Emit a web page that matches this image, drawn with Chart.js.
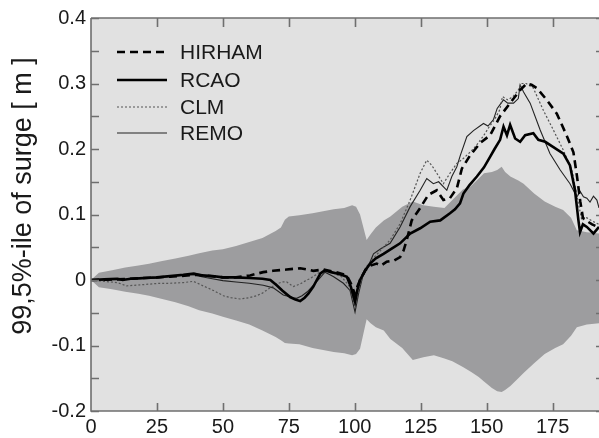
<!DOCTYPE html>
<html>
<head>
<meta charset="utf-8">
<script src="https://cdn.jsdelivr.net/npm/chart.js@4/dist/chart.umd.min.js"></script>
<style>
  html, body { margin: 0; padding: 0; background: #fff; }
  canvas { display: block; }
</style>
</head>
<body>
<canvas id="surge" width="599" height="438"></canvas>
<script>
// tick positions
const xTicks = [0, 25, 50, 75, 100, 125, 150, 175];
const yTicks = [-0.2, -0.15, -0.1, -0.05, 0, 0.05, 0.1, 0.15, 0.2, 0.25, 0.3, 0.35, 0.4];

// grey envelope (upper / lower edge)
const bandX = [0, 3, 8, 13, 18, 22, 27, 32, 37, 41, 46, 50, 55, 60, 65, 70, 72, 73.5, 75, 79, 84, 88, 92, 96, 99, 100.5, 102, 104.5, 106, 108, 111, 113.5, 118, 122, 126, 130, 134, 137, 141, 144, 147, 149, 152, 154, 155.7, 157, 159, 162, 164, 168, 172, 176, 179, 182, 184.2, 188, 192.6];
const bandUpper = [0, 0.011, 0.015, 0.019, 0.022, 0.025, 0.029, 0.033, 0.037, 0.041, 0.045, 0.047, 0.052, 0.058, 0.064, 0.075, 0.080, 0.092, 0.097, 0.099, 0.102, 0.105, 0.108, 0.110, 0.114, 0.112, 0.100, 0.061, 0.070, 0.080, 0.091, 0.097, 0.112, 0.120, 0.114, 0.112, 0.110, 0.122, 0.138, 0.143, 0.155, 0.163, 0.165, 0.168, 0.173, 0.165, 0.158, 0.152, 0.147, 0.132, 0.120, 0.112, 0.107, 0.095, 0.076, 0.073, 0.071];
const bandLower = [0, -0.011, -0.014, -0.018, -0.021, -0.024, -0.029, -0.034, -0.040, -0.046, -0.051, -0.056, -0.062, -0.068, -0.077, -0.087, -0.092, -0.096, -0.097, -0.098, -0.104, -0.107, -0.110, -0.112, -0.115, -0.113, -0.105, -0.060, -0.066, -0.072, -0.077, -0.090, -0.104, -0.122, -0.118, -0.115, -0.120, -0.124, -0.133, -0.140, -0.148, -0.155, -0.165, -0.170, -0.171, -0.168, -0.162, -0.150, -0.142, -0.127, -0.113, -0.104, -0.098, -0.085, -0.072, -0.068, -0.066];

// HIRHAM (thick dashed)
const hirhamX = [0, 10, 20, 30, 40, 50, 55, 60.3, 65.3, 69, 74.2, 79.3, 84.3, 88, 93, 97, 98.5, 100.1, 101, 102, 104, 106, 108.3, 110, 112.1, 115, 117.2, 118.5, 119.7, 121.6, 124.8, 127.9, 131.1, 133.6, 136.1, 138.7, 140.6, 143.7, 147.5, 151.3, 155.1, 158.9, 162.7, 165.2, 167, 169, 172.8, 176.6, 180.4, 182.9, 184.2, 185.5, 186.5, 188, 190, 192.6];
const hirhamY = [0, 0.001, 0.003, 0.005, 0.008, 0.004, 0.004, 0.007, 0.012, 0.014, 0.016, 0.018, 0.014, 0.016, 0.012, 0.007, -0.005, -0.022, -0.010, 0, 0.015, 0.022, 0.025, 0.022, 0.028, 0.030, 0.035, 0.045, 0.061, 0.091, 0.110, 0.130, 0.137, 0.122, 0.125, 0.140, 0.170, 0.190, 0.209, 0.221, 0.250, 0.270, 0.290, 0.300, 0.298, 0.293, 0.275, 0.254, 0.220, 0.195, 0.160, 0.120, 0.095, 0.090, 0.085, 0.080];

// RCAO (thick solid)
const rcaoX = [0, 5, 10, 12, 15, 20, 25, 30, 35, 39, 42, 46, 50, 55, 60, 65, 68, 70.4, 72.5, 75.5, 77.5, 79.3, 81, 82.4, 84.3, 85.6, 87, 88.7, 91, 93.2, 95, 97, 98.5, 100.1, 101, 102, 104, 105.8, 108, 110.9, 114, 117.2, 121, 124.8, 128.6, 132.4, 136.1, 138, 139.9, 141.2, 143.5, 146.3, 149, 151.3, 153, 155.1, 156.4, 157.7, 158.9, 160.8, 162.7, 164.6, 167.7, 169.6, 172.2, 175.3, 179.1, 181.6, 183.5, 184.8, 185.4, 186.5, 188, 189.5, 190.5, 192.6];
const rcaoY = [0, 0.001, 0.002, 0, 0.002, 0.003, 0.004, 0.006, 0.008, 0.010, 0.007, 0.006, 0.004, 0.004, 0.003, 0.002, 0, -0.008, -0.016, -0.026, -0.030, -0.032, -0.027, -0.021, -0.010, 0, 0.010, 0.015, 0.012, 0.010, 0.008, 0.005, -0.010, -0.033, -0.015, 0, 0.015, 0.025, 0.033, 0.040, 0.048, 0.056, 0.071, 0.079, 0.089, 0.091, 0.102, 0.108, 0.117, 0.132, 0.145, 0.158, 0.172, 0.188, 0.200, 0.214, 0.234, 0.221, 0.237, 0.216, 0.211, 0.221, 0.224, 0.214, 0.211, 0.203, 0.193, 0.175, 0.137, 0.091, 0.073, 0.085, 0.081, 0.075, 0.071, 0.081];

// CLM (thin dotted)
const clmX = [0, 5, 10, 13.5, 20, 26, 30, 35, 38.8, 42, 46.4, 50.2, 53, 56.5, 60, 62.8, 65, 67.9, 70.4, 72.5, 74.2, 76.7, 79.3, 81.8, 83, 86.8, 88.7, 91, 95, 98, 100.1, 102, 104, 107, 110, 113.4, 117.2, 121, 124.8, 127.3, 129.2, 131.1, 133.6, 136.1, 138.7, 141, 143.7, 146, 148.8, 151, 153, 155, 156, 158, 160, 162, 163, 165, 167.7, 171.5, 175.3, 179.1, 182.3, 184.8, 186.1, 188, 190, 192.6];
const clmY = [0, -0.002, -0.004, -0.009, -0.007, -0.005, -0.005, -0.004, -0.002, -0.008, -0.016, -0.024, -0.027, -0.029, -0.027, -0.024, -0.020, -0.012, -0.006, -0.003, -0.003, -0.010, -0.006, 0, 0.002, 0.012, 0.013, 0.012, 0.005, -0.010, -0.040, -0.008, 0.018, 0.033, 0.046, 0.061, 0.086, 0.122, 0.163, 0.183, 0.175, 0.163, 0.147, 0.163, 0.178, 0.185, 0.195, 0.205, 0.220, 0.234, 0.245, 0.260, 0.280, 0.275, 0.280, 0.290, 0.300, 0.300, 0.293, 0.259, 0.229, 0.198, 0.168, 0.117, 0.091, 0.095, 0.090, 0.085];

// REMO (thin solid)
const remoX = [0, 5, 10, 15, 20, 25, 30, 35, 39, 42, 46, 50, 55, 60, 65.3, 69.1, 72.9, 76.7, 78, 80, 82, 85, 88.7, 90.6, 92, 95.7, 98.2, 100.1, 101.5, 103, 105, 107.1, 110, 113.4, 117.2, 121, 124.8, 127.3, 129.8, 131.8, 134.9, 136.8, 138.7, 140, 142.5, 145, 148.8, 150.5, 152.6, 154, 156.4, 158, 160.2, 162, 162.7, 164, 166.5, 170.3, 174, 177.9, 181.6, 184.2, 185.5, 186.7, 188, 189.2, 190.5, 191.8, 192.6];
const remoY = [0, 0, 0.001, 0.001, 0.002, 0.003, 0.005, 0.007, 0.008, 0.005, 0.002, -0.001, -0.003, -0.005, -0.008, -0.012, -0.023, -0.027, -0.028, -0.024, -0.018, -0.005, 0.012, 0.008, 0.005, -0.005, -0.016, -0.049, -0.020, 0.005, 0.020, 0.040, 0.048, 0.056, 0.081, 0.112, 0.137, 0.155, 0.147, 0.150, 0.137, 0.158, 0.173, 0.190, 0.219, 0.228, 0.239, 0.235, 0.245, 0.262, 0.275, 0.270, 0.270, 0.277, 0.298, 0.287, 0.270, 0.229, 0.193, 0.168, 0.147, 0.127, 0.135, 0.127, 0.125, 0.119, 0.128, 0.122, 0.110];

const font = '"Liberation Sans", Arial, sans-serif';
const axisGrey = "#6f6f6f";

const pts = (xs, ys) => xs.map((x, i) => ({ x: x, y: ys[i] }));

const series = [
  { label: "HIRHAM", x: hirhamX, y: hirhamY, color: "#000", width: 2.6, dash: [8, 5] },
  { label: "RCAO", x: rcaoX, y: rcaoY, color: "#000", width: 2.6, dash: [] },
  { label: "CLM", x: clmX, y: clmY, color: "#555", width: 1.2, dash: [2, 2] },
  { label: "REMO", x: remoX, y: remoY, color: "#222", width: 1.1, dash: [] },
];

const lineSets = series.map((s) => ({
  label: s.label,
  data: pts(s.x, s.y),
  borderColor: s.color,
  borderWidth: s.width,
  borderDash: s.dash,
  pointRadius: 0,
  tension: 0,
  fill: false,
  order: 1,
}));

// plot background + frame, ticks, legend and y title
const decor = {
  id: "decor",
  beforeDraw(chart) {
    const { ctx, chartArea: a } = chart;
    ctx.save();
    ctx.fillStyle = "#fff";
    ctx.fillRect(0, 0, chart.width, chart.height);
    ctx.fillStyle = "#e1e1e1";
    ctx.fillRect(a.left, a.top, a.right - a.left, a.bottom - a.top);
    ctx.restore();
  },
  afterDraw(chart) {
    const { ctx, chartArea: a, scales } = chart;
    const xs = scales.x, ys = scales.y;
    ctx.save();
    ctx.strokeStyle = axisGrey;
    ctx.lineWidth = 1.6;
    ctx.beginPath();
    ctx.moveTo(a.left, a.top);
    ctx.lineTo(a.right, a.top);
    ctx.moveTo(a.left, a.top);
    ctx.lineTo(a.left, a.bottom);
    ctx.lineTo(a.right, a.bottom);
    // x ticks bottom and top, pointing in
    xTicks.forEach((v) => {
      if (v === 0) return;
      const p = Math.round(xs.getPixelForValue(v)) + 0.5;
      ctx.moveTo(p, a.bottom);
      ctx.lineTo(p, a.bottom - 8);
      ctx.moveTo(p, a.top);
      ctx.lineTo(p, a.top + 9);
    });
    // y ticks left and right
    yTicks.forEach((v) => {
      const p = Math.round(ys.getPixelForValue(v)) + 0.5;
      ctx.moveTo(a.left, p);
      ctx.lineTo(a.left + 8, p);
      ctx.moveTo(a.right, p);
      ctx.lineTo(a.right - 3, p);
    });
    ctx.stroke();

    // legend
    const rowY = [52, 80, 107, 133];
    series.forEach((s, i) => {
      ctx.beginPath();
      ctx.strokeStyle = s.color;
      ctx.lineWidth = s.width;
      ctx.setLineDash(s.dash);
      ctx.moveTo(117, rowY[i]);
      ctx.lineTo(167, rowY[i]);
      ctx.stroke();
      ctx.setLineDash([]);
      ctx.fillStyle = "#1a1a1a";
      ctx.font = "21px " + font;
      ctx.textAlign = "left";
      ctx.textBaseline = "middle";
      ctx.fillText(s.label, 180, rowY[i] + 1);
    });

    // y axis title
    ctx.translate(24, 196);
    ctx.rotate(-Math.PI / 2);
    ctx.fillStyle = "#1a1a1a";
    ctx.font = "27px " + font;
    ctx.textAlign = "center";
    ctx.textBaseline = "middle";
    ctx.fillText("99,5%-ile of surge [ m ]", 0, 0);
    ctx.restore();
  },
};

new Chart(document.getElementById("surge").getContext("2d"), {
  type: "line",
  data: {
    datasets: [
      ...lineSets,
      {
        label: "upper",
        data: pts(bandX, bandUpper),
        borderWidth: 0,
        borderColor: "rgba(0,0,0,0)",
        backgroundColor: "#9d9d9f",
        pointRadius: 0,
        tension: 0,
        fill: "+1",
        order: 5,
      },
      {
        label: "lower",
        data: pts(bandX, bandLower),
        borderWidth: 0,
        borderColor: "rgba(0,0,0,0)",
        pointRadius: 0,
        tension: 0,
        fill: false,
        order: 5,
      },
    ],
  },
  options: {
    responsive: false,
    animation: false,
    devicePixelRatio: 1,
    layout: { padding: { top: 18, right: 0, left: 0, bottom: 0 } },
    plugins: {
      legend: { display: false },
      tooltip: { enabled: false },
    },
    scales: {
      x: {
        type: "linear",
        min: 0,
        max: 192.6,
        grid: { display: false, drawTicks: false },
        border: { display: false },
        ticks: {
          autoSkip: false,
          maxRotation: 0,
          padding: 4,
          color: "#1a1a1a",
          font: { family: font, size: 20 },
        },
        afterBuildTicks: (s) => { s.ticks = xTicks.map((v) => ({ value: v })); },
        afterFit: (s) => { s.height = 27; },
      },
      y: {
        min: -0.2,
        max: 0.4,
        grid: { display: false, drawTicks: false },
        border: { display: false },
        ticks: {
          autoSkip: false,
          padding: 5,
          color: "#1a1a1a",
          font: { family: font, size: 20 },
          callback: (v) => {
            const r = Math.round(v * 100);
            if (r % 10 !== 0) return "";
            return r === 0 ? "0" : (r / 100).toFixed(1);
          },
        },
        afterBuildTicks: (s) => { s.ticks = yTicks.map((v) => ({ value: v })); },
        afterFit: (s) => { s.width = 91; },
      },
    },
  },
  plugins: [decor],
});
</script>
</body>
</html>
